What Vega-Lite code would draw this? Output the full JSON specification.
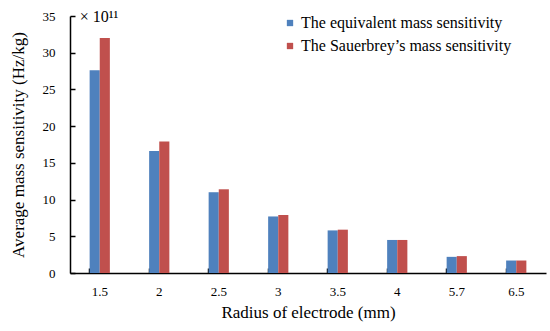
{
  "$schema": "https://vega.github.io/schema/vega-lite/v6.json",
  "width": 476,
  "height": 257,
  "padding": {"left": 9, "top": 9, "right": 5, "bottom": 5},
  "background": "white",
  "data": {"values": [
    {"r": "1.5", "s": "The equivalent mass sensitivity", "v": 27.6},
    {"r": "1.5", "s": "The Sauerbrey’s mass sensitivity", "v": 32.0},
    {"r": "2", "s": "The equivalent mass sensitivity", "v": 16.6},
    {"r": "2", "s": "The Sauerbrey’s mass sensitivity", "v": 17.9},
    {"r": "2.5", "s": "The equivalent mass sensitivity", "v": 11.0},
    {"r": "2.5", "s": "The Sauerbrey’s mass sensitivity", "v": 11.4},
    {"r": "3", "s": "The equivalent mass sensitivity", "v": 7.7},
    {"r": "3", "s": "The Sauerbrey’s mass sensitivity", "v": 7.9},
    {"r": "3.5", "s": "The equivalent mass sensitivity", "v": 5.8},
    {"r": "3.5", "s": "The Sauerbrey’s mass sensitivity", "v": 5.9},
    {"r": "4", "s": "The equivalent mass sensitivity", "v": 4.5},
    {"r": "4", "s": "The Sauerbrey’s mass sensitivity", "v": 4.5},
    {"r": "5.7", "s": "The equivalent mass sensitivity", "v": 2.2},
    {"r": "5.7", "s": "The Sauerbrey’s mass sensitivity", "v": 2.3},
    {"r": "6.5", "s": "The equivalent mass sensitivity", "v": 1.7},
    {"r": "6.5", "s": "The Sauerbrey’s mass sensitivity", "v": 1.7}
  ]},
  "encoding": {
    "x": {"field": "r", "type": "nominal", "sort": null,
      "scale": {"paddingInner": 0.66, "paddingOuter": 0.33},
      "axis": {"title": "Radius of electrode (mm)", "titleFontSize": 17, "labelAngle": 0, "bandPosition": 0, "ticks": true, "tickSize": -5, "labelPadding": 17, "titlePadding": 6}},
    "y": {"field": "v", "type": "quantitative",
      "scale": {"domain": [0, 35]},
      "axis": {"title": "Average mass sensitivity (Hz/kg)", "titleFontSize": 17, "values": [0,5,10,15,20,25,30,35], "grid": false, "ticks": true, "tickSize": -5, "labelPadding": 20, "titlePadding": 15}}
  },
  "layer": [
    {
      "mark": {"type": "bar"},
      "encoding": {
        "xOffset": {"field": "s", "type": "nominal", "sort": ["The equivalent mass sensitivity", "The Sauerbrey’s mass sensitivity"]},
        "color": {"field": "s", "type": "nominal",
          "sort": ["The equivalent mass sensitivity", "The Sauerbrey’s mass sensitivity"],
          "scale": {"range": ["#4F81BD", "#C0504D"]},
          "legend": {"title": null, "orient": "none", "legendX": 212, "legendY": -1, "symbolType": "square", "symbolSize": 40, "labelFontSize": 16, "labelOffset": 3, "rowPadding": 7, "symbolStrokeWidth": 0}}
      }
    },
    {
      "data": {"values": [{"r": "1.5", "v": 35, "t": "× 10¹¹"}]},
      "mark": {"type": "text", "align": "left", "baseline": "middle", "dx": -10, "dy": 1, "fontSize": 16, "font": "Liberation Serif", "color": "black"},
      "encoding": {
        "x": {"field": "r", "type": "nominal", "bandPosition": 0},
        "text": {"field": "t"}
      }
    }
  ],
  "config": {
    "view": {"stroke": null},
    "font": "Liberation Serif",
    "axis": {"labelFont": "Liberation Serif", "titleFont": "Liberation Serif", "labelFontSize": 13, "titleFontSize": 16, "titleFontWeight": "normal", "labelColor": "black", "titleColor": "black", "domainColor": "black", "tickColor": "black", "domainWidth": 1.5, "tickWidth": 1.5},
    "legend": {"labelFont": "Liberation Serif", "labelColor": "black", "labelLimit": 400}
  }
}
